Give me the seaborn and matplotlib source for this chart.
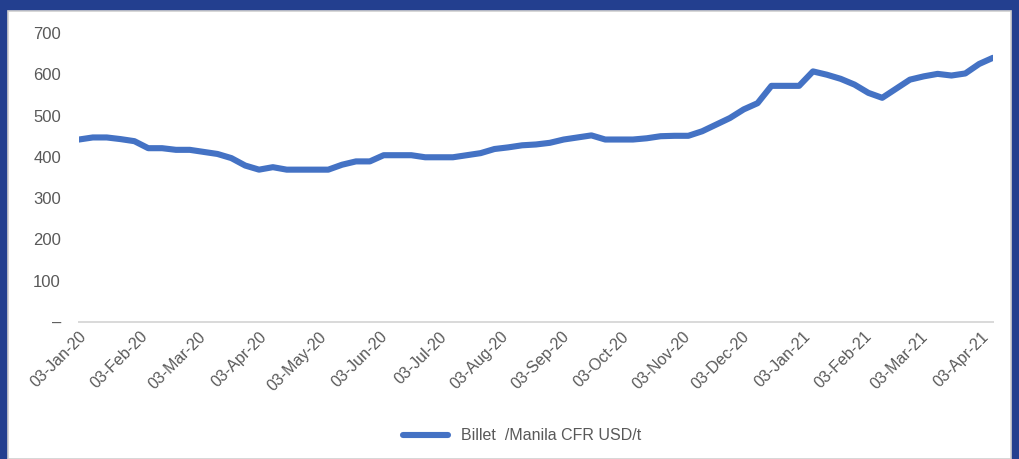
import matplotlib
matplotlib.use("Agg")
import matplotlib.pyplot as plt
import matplotlib.dates as mdates
from matplotlib.patches import Rectangle
import matplotlib.transforms as mtransforms
import seaborn as sns
import pandas as pd

# Weekly billet price, Manila CFR (USD/t)
startDate = "2020-01-03"
prices = [442, 447, 447, 443, 438, 421, 421, 417, 417, 412,
          407, 397, 379, 369, 375, 369, 369, 369, 369, 381,
          389, 389, 404, 404, 404, 399, 399, 399, 404, 409,
          419, 423, 428, 430, 434, 442, 447, 452, 442, 442,
          442, 445, 450, 451, 451, 462, 478, 494, 515, 530,
          572, 572, 572, 607, 599, 589, 575, 555, 543, 565,
          587, 595, 601, 597, 602, 625, 640]
seriesName = "Billet  /Manila CFR USD/t"
yTicks = [0, 100, 200, 300, 400, 500, 600, 700]
yTickLabels = ["\u2013", "100", "200", "300", "400", "500", "600", "700"]

dates = pd.date_range(startDate, periods=len(prices), freq="7D")
df = pd.DataFrame({"Date": dates, "Price": prices})

sns.set_style("white")
plt.rcParams["font.family"] = ["Liberation Sans", "DejaVu Sans"]

textColor = "#595959"
lineColor = "#4472C4"

fig = plt.figure(figsize=(10.19, 4.59), dpi=100)
fig.patch.set_facecolor("#233F8F")
# White chart area inside the dark blue frame
fig.patches.append(Rectangle((8 / 1019, 0), (1011 - 8) / 1019, (459 - 11) / 459,
                             transform=fig.transFigure, facecolor="white",
                             edgecolor="#D0D0D0", linewidth=1.2, zorder=-10))

ax = fig.add_axes([79 / 1019, 1 - 322 / 459, (993 - 79) / 1019, (322 - 33) / 459])
ax.set_facecolor("none")

sns.lineplot(data=df, x="Date", y="Price", ax=ax, color=lineColor, linewidth=4.4,
             label=seriesName, legend=False, solid_capstyle="round", solid_joinstyle="round")

ax.set_xlim(dates[0], dates[-1])
ax.set_ylim(0, 700)
ax.set_yticks(yTicks)
ax.set_yticklabels(yTickLabels)

ax.xaxis.set_major_locator(mdates.MonthLocator(bymonthday=3))
ax.xaxis.set_major_formatter(mdates.DateFormatter("%d-%b-%y"))
# nudge the rotated date labels a little right, like the reference
shift = mtransforms.ScaledTranslation(4 / 72, 0, fig.dpi_scale_trans)
for lbl in ax.get_xticklabels():
    lbl.set_rotation(45)
    lbl.set_ha("right")
    lbl.set_rotation_mode("anchor")
    lbl.set_transform(lbl.get_transform() + shift)

ax.set_xlabel("")
ax.set_ylabel("")
for side in ["top", "right", "left"]:
    ax.spines[side].set_visible(False)
ax.spines["bottom"].set_color("#D9D9D9")
ax.spines["bottom"].set_linewidth(1.4)

ax.tick_params(axis="x", colors=textColor, labelsize=11.5, direction="out",
               length=5, width=1.2, color="#D9D9D9", pad=0)
ax.tick_params(axis="y", colors=textColor, labelsize=12, length=0, pad=13)

handles, labels = ax.get_legend_handles_labels()
fig.legend(handles, labels, loc="center", bbox_to_anchor=(522 / 1019, 1 - 436 / 459),
           frameon=False, fontsize=11.5, handlelength=2.8, labelcolor=textColor)

fig.savefig("out.png", dpi=100, facecolor=fig.get_facecolor())
